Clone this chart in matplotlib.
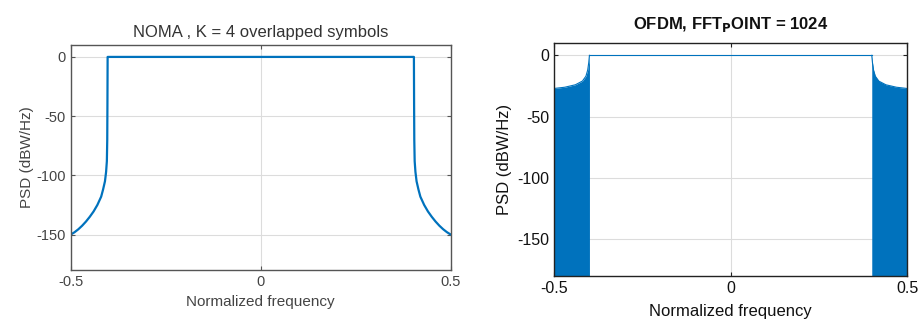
import matplotlib.pyplot as plt
import numpy as np

plt.rcParams["font.family"] = ["Liberation Sans", "DejaVu Sans"]
plt.rcParams["axes.unicode_minus"] = False

BLUE = "#0072BD"

# NOMA PSD
noma_freq = [-0.5, -0.49, -0.48, -0.47, -0.46, -0.45, -0.44, -0.43, -0.42, -0.415,
             -0.41, -0.407, -0.405, -0.404, -0.4035, -0.403,
             0.403, 0.4035, 0.404, 0.405, 0.407, 0.41, 0.415, 0.42, 0.43, 0.44,
             0.45, 0.46, 0.47, 0.48, 0.49, 0.5]
noma_psd = [-150, -148, -145.5, -142.5, -139, -135, -130.5, -125, -118, -112,
            -105, -97, -88, -70, -40, 0,
            0, -40, -70, -88, -97, -105, -112, -118, -125, -130.5,
            -135, -139, -142.5, -145.5, -148, -150]

# OFDM PSD envelope (left and right out-of-band parts)
ofdm_left_freq = [-0.5, -0.47, -0.44, -0.42, -0.41, -0.405, -0.402, -0.4]
ofdm_left_psd = [-27, -26, -24, -21, -17, -12, -6, 0]
ofdm_right_freq = [0.4, 0.402, 0.405, 0.41, 0.42, 0.44, 0.47, 0.5]
ofdm_right_psd = [0, -6, -12, -17, -21, -24, -26, -27]
ofdm_band_freq = [-0.4, 0.4]
ofdm_band_psd = [0, 0]

y_ticks = [0, -50, -100, -150]
x_ticks = [-0.5, 0, 0.5]
x_tick_labels = ["-0.5", "0", "0.5"]


def style_axes(ax, spine_color, label_color, fs):
    ax.set_xlim(-0.5, 0.5)
    ax.set_ylim(-180, 10)
    ax.set_xticks(x_ticks)
    ax.set_xticklabels(x_tick_labels)
    ax.set_yticks(y_ticks)
    ax.grid(True, color="#dcdcdc", linewidth=0.8)
    ax.set_axisbelow(True)
    ax.tick_params(direction="in", top=True, right=True, length=3,
                   labelsize=fs, colors=spine_color, labelcolor=label_color)
    for s in ax.spines.values():
        s.set_color(spine_color)
        s.set_linewidth(1.0)


fig = plt.figure(figsize=(9.19, 3.29), dpi=100)

ax1 = fig.add_axes([0.077, 0.179, 0.4135, 0.684])
ax1.plot(noma_freq, noma_psd, color=BLUE, linewidth=1.6)
style_axes(ax1, "#555555", "#444444", 10.5)
ax1.set_title("NOMA , K = 4 overlapped symbols", fontsize=12, color="#333333", pad=6)
ax1.set_xlabel("Normalized frequency", fontsize=11, color="#444444", labelpad=4)
ax1.set_ylabel("PSD (dBW/Hz)", fontsize=11, color="#444444", labelpad=2)

ax2 = fig.add_axes([0.603, 0.161, 0.384, 0.708])
ax2.fill_between(ofdm_left_freq, ofdm_left_psd, -180, color=BLUE, linewidth=0)
ax2.fill_between(ofdm_right_freq, ofdm_right_psd, -180, color=BLUE, linewidth=0)
ax2.plot(ofdm_left_freq, ofdm_left_psd, color=BLUE, linewidth=0.8)
ax2.plot(ofdm_right_freq, ofdm_right_psd, color=BLUE, linewidth=0.8)
ax2.plot(ofdm_band_freq, ofdm_band_psd, color=BLUE, linewidth=0.8)
style_axes(ax2, "#222222", "#111111", 11.5)
ax2.set_title(r"OFDM, FFT$_\mathbf{P}$OINT = 1024", fontsize=12, fontweight="bold",
              color="#111111", pad=10)
ax2.set_xlabel("Normalized frequency", fontsize=12, color="#111111", labelpad=6)
ax2.set_ylabel("PSD (dBW/Hz)", fontsize=12, color="#111111", labelpad=4)

fig.savefig("out.png", dpi=100)
